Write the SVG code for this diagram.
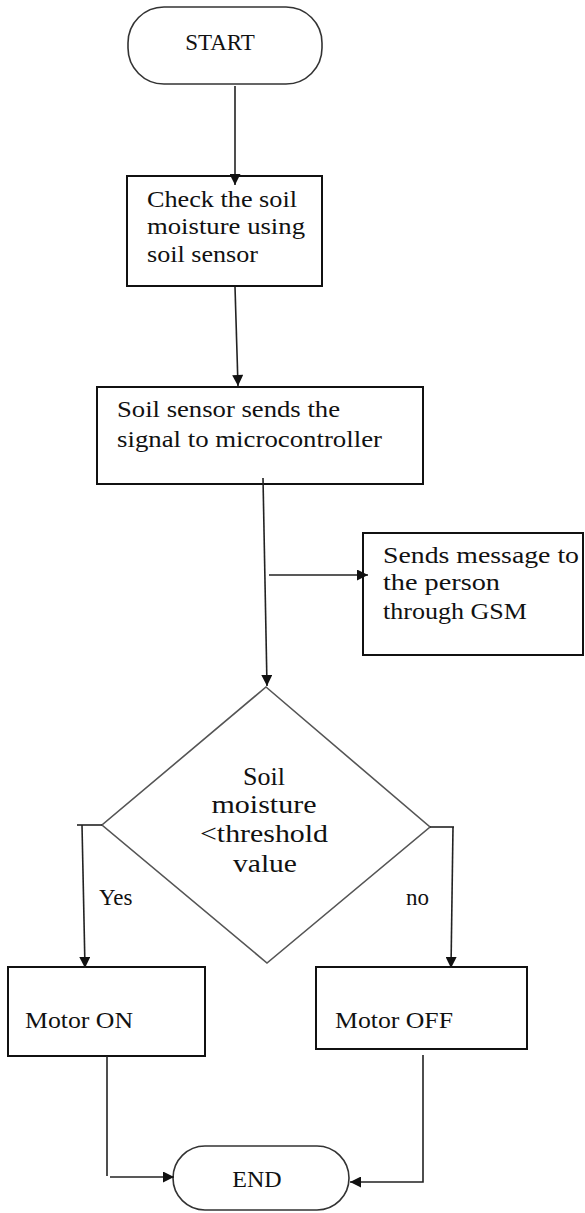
<svg xmlns="http://www.w3.org/2000/svg" width="585" height="1213" viewBox="0 0 585 1213">
<style>
.t{font-family:"Liberation Serif","Times New Roman",serif;fill:#111;}
.b{font-size:24px;}
.box{fill:#fff;stroke:#111;stroke-width:2;}
.term{fill:#fff;stroke:#333;stroke-width:1.6;}
.dia{fill:#fff;stroke:#555;stroke-width:1.6;}
.c{fill:none;stroke:#222;stroke-width:1.6;}
</style>
<defs>
<marker id="ah" viewBox="0 0 10 10" refX="10" refY="5" markerWidth="12" markerHeight="11" markerUnits="userSpaceOnUse" orient="auto">
<path d="M0,0 L10,5 L0,10 z" fill="#111"/>
</marker>
</defs>
<rect width="585" height="1213" fill="#fff"/>
<g id="start">
<rect class="term" x="128" y="7" width="194" height="77" rx="36" ry="36"/>
<text class="t" x="220" y="50" font-size="23" text-anchor="middle">START</text>
</g>
<g id="check">
<rect class="box" x="127" y="176" width="195" height="110"/>
<text class="t b" x="147" y="207" textLength="150" lengthAdjust="spacingAndGlyphs">Check the soil</text>
<text class="t b" x="147" y="234" textLength="158" lengthAdjust="spacingAndGlyphs">moisture using</text>
<text class="t b" x="147" y="262" textLength="111" lengthAdjust="spacingAndGlyphs">soil sensor</text>
</g>
<g id="sensor">
<rect class="box" x="97" y="387" width="326" height="97"/>
<text class="t b" x="117" y="417" textLength="223" lengthAdjust="spacingAndGlyphs">Soil sensor sends the</text>
<text class="t b" x="117" y="447" textLength="265" lengthAdjust="spacingAndGlyphs">signal to microcontroller</text>
</g>
<g id="gsm">
<rect class="box" x="363" y="533" width="220" height="122"/>
<text class="t b" x="383" y="563" textLength="196" lengthAdjust="spacingAndGlyphs">Sends message to</text>
<text class="t b" x="383" y="590" textLength="117" lengthAdjust="spacingAndGlyphs">the person</text>
<text class="t b" x="383" y="619" textLength="144" lengthAdjust="spacingAndGlyphs">through GSM</text>
</g>
<g id="decision">
<polygon class="dia" points="266,687 430,827 267,963 102,825"/>
<text class="t" x="264" y="785" font-size="26" text-anchor="middle">Soil</text>
<text class="t" x="264" y="813" font-size="26" text-anchor="middle" textLength="105" lengthAdjust="spacingAndGlyphs">moisture</text>
<text class="t" x="264" y="842" font-size="26" text-anchor="middle" textLength="128" lengthAdjust="spacingAndGlyphs">&lt;threshold</text>
<text class="t" x="265" y="872" font-size="26" text-anchor="middle" textLength="64" lengthAdjust="spacingAndGlyphs">value</text>
<text class="t" x="99" y="905" font-size="23">Yes</text>
<text class="t" x="406" y="905" font-size="23">no</text>
</g>
<g id="motor-on">
<rect class="box" x="8" y="967" width="197" height="89"/>
<text class="t b" x="25" y="1028" textLength="108" lengthAdjust="spacingAndGlyphs">Motor ON</text>
</g>
<g id="motor-off">
<rect class="box" x="316" y="967" width="211" height="82"/>
<text class="t b" x="335" y="1028" textLength="118" lengthAdjust="spacingAndGlyphs">Motor OFF</text>
</g>
<g id="end">
<rect class="term" x="173" y="1146" width="176" height="64" rx="32" ry="32"/>
<text class="t" x="257" y="1187" font-size="24" text-anchor="middle">END</text>
</g>
<g id="connectors">
<path class="c" d="M235,86 L235,185" marker-end="url(#ah)"/>
<path class="c" d="M235,287 L238,386" marker-end="url(#ah)"/>
<path class="c" d="M263,478 L267,686" marker-end="url(#ah)"/>
<path class="c" d="M269,575 L368,575" marker-end="url(#ah)"/>
<path class="c" d="M102,825 L77,825"/>
<path class="c" d="M82,825 L85,968" marker-end="url(#ah)"/>
<path class="c" d="M430,827 L454,827"/>
<path class="c" d="M453,827 L451,968" marker-end="url(#ah)"/>
<path class="c" d="M107,1056 L107,1176"/>
<path class="c" d="M110,1177 L174,1177" marker-end="url(#ah)"/>
<path class="c" d="M423,1055 L423,1182 L350,1182" marker-end="url(#ah)"/>
</g>
</svg>
